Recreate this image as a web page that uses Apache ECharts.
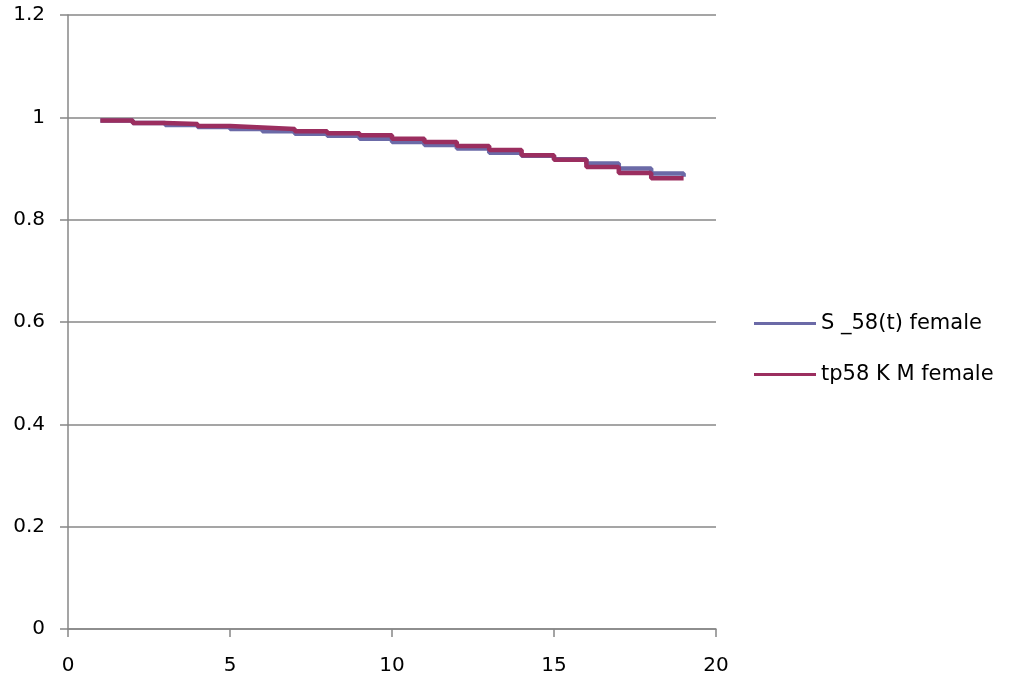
<!DOCTYPE html>
<html>
<head>
<meta charset="utf-8">
<script src="https://cdn.jsdelivr.net/npm/echarts@6/dist/echarts.min.js"></script>
<style>html,body{margin:0;padding:0;background:#fff}#c{width:1024px;height:687px}</style>
</head>
<body>
<div id="c"></div>
<script>
var times = [1,2,3,4,5,6,7,8,9,10,11,12,13,14,15,16,17,18,19];
var sModel = [0.994,0.989,0.985,0.981,0.977,0.973,0.968,0.964,0.958,0.952,0.946,0.939,0.931,0.925,0.918,0.910,0.900,0.890,0.884];
var kmFemale = [0.994,0.989,0.987,0.983,0.980,0.977,0.973,0.969,0.965,0.958,0.952,0.944,0.936,0.926,0.917,0.903,0.891,0.881,0.881];
var seriesNames = ['S _58(t) female','tp58 K M female'];
var yTicks = [0,0.2,0.4,0.6,0.8,1,1.2];

function pairs(xs, ys){ return xs.map(function(x,i){return [x, ys[i]];}); }

var chart = echarts.init(document.getElementById('c'));
var font = 'DejaVu Sans';
chart.setOption({
  animation:false,
  grid:{left:68,right:308,top:15,bottom:58},
  legend:{
    orient:'vertical', left:749, top:308, itemGap:30,
    itemWidth:62, itemHeight:3, icon:'rect',
    textStyle:{fontFamily:font,fontSize:21,color:'#000',padding:[0,0,0,0]},
    itemTextGap:5,
    data:seriesNames
  },
  xAxis:{
    type:'value', min:0, max:20, interval:5,
    axisLine:{lineStyle:{color:'#878787',width:1.5}},
    axisTick:{show:true,length:8,lineStyle:{color:'#878787',width:1.5}},
    axisLabel:{fontFamily:font,fontSize:20,color:'#000',margin:27},
    splitLine:{show:false}
  },
  yAxis:{
    type:'value', min:0, max:1.2, interval:0.2,
    axisLine:{show:true,lineStyle:{color:'#878787',width:1.5}},
    axisTick:{show:true,length:8,lineStyle:{color:'#878787',width:1.5}},
    axisLabel:{fontFamily:font,fontSize:20,color:'#000',margin:23,
      formatter:function(v){ var r=Math.round(v*10)/10; return yTicks.indexOf(r)>=0 ? String(r) : ''; }},
    splitLine:{show:true,lineStyle:{color:'#878787',width:1.5}}
  },
  series:[
    {name:seriesNames[0], type:'line', step:'end', showSymbol:false, symbol:'none',
     data:pairs(times,sModel), lineStyle:{color:'#6b6aa7',width:4.5}, itemStyle:{color:'#6b6aa7'}},
    {name:seriesNames[1], type:'line', step:'end', showSymbol:false, symbol:'none',
     data:pairs(times,kmFemale), lineStyle:{color:'#9b2e5f',width:4.5}, itemStyle:{color:'#9b2e5f'}}
  ]
});
</script>
</body>
</html>
